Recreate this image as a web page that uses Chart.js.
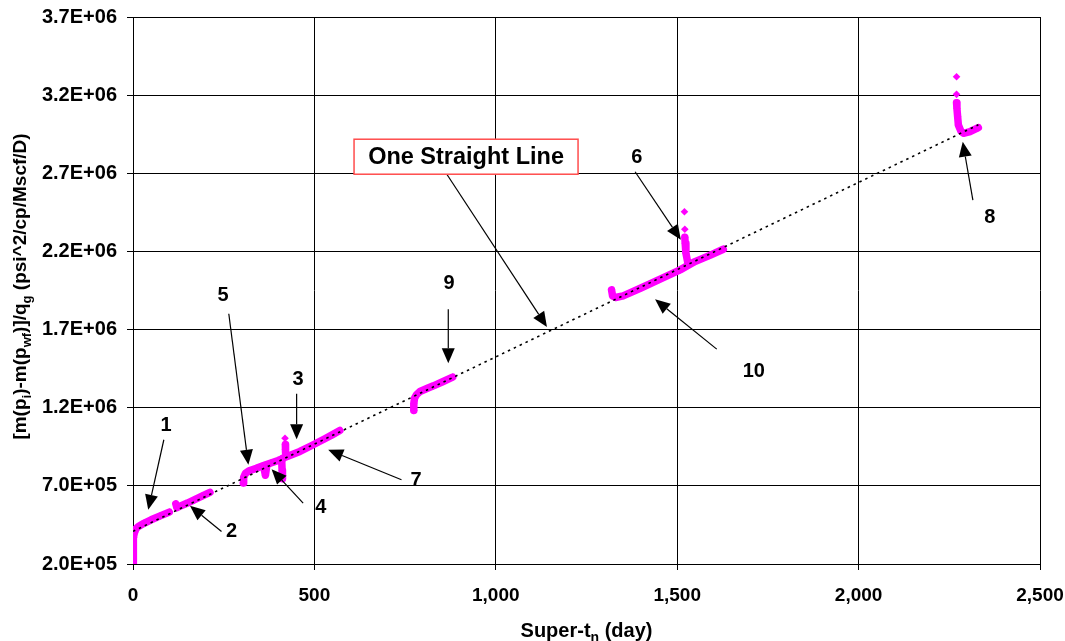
<!DOCTYPE html>
<html>
<head>
<meta charset="utf-8">
<script src="https://cdn.jsdelivr.net/npm/chart.js@4.4.0/dist/chart.umd.min.js"></script>
<style>
  html, body { margin: 0; padding: 0; background: #fff; }
</style>
</head>
<body>
<canvas id="chart" width="1065" height="641"></canvas>
<script>
// Axis ranges
const xMin = 0, xMax = 2500, xStep = 500;
const yMin = 200000, yMax = 3700000, yStep = 500000;

// Fitted straight line (end points)
const straightLine = [[0, 409000], [2330, 3010000]];

// Flow periods, [super time, normalized pseudo-pressure]
const seg1 = [[0, 200000], [0, 260000], [1, 320000], [2, 370000], [4, 400000], [8, 425000], [15, 440000], [30, 460000], [50, 483000], [75, 508000], [100, 532000]];
const seg2 = [[118, 585000], [121, 560000], [130, 570000], [150, 590000], [170, 612000], [190, 634000], [212, 658000]];
const seg5 = [[304, 718000], [305, 755000], [310, 780000], [320, 797000], [340, 812000], [360, 830000], [380, 846000], [400, 862000], [410, 872000]];
const seg4a = [[360, 826000], [365, 768000], [369, 834000]];
const seg4b = [[410, 856000], [411, 800000], [412, 745000]];
const seg3 = [[420, 965000], [420, 935000], [421, 912000]];
const seg7 = [[414, 878000], [430, 893000], [460, 920000], [490, 955000], [506, 974000], [530, 1003000], [550, 1028000], [570, 1054000]];
const seg9 = [[774, 1182000], [774, 1225000], [776, 1261000], [782, 1285000], [791, 1304000], [810, 1323000], [828, 1340000], [855, 1368000], [881, 1396000]];
const seg10 = [[1319, 1954000], [1322, 1915000], [1330, 1905000], [1351, 1916000], [1400, 1966000], [1450, 2020000], [1508, 2082000], [1549, 2135000], [1590, 2175000], [1627, 2214000]];
const seg6 = [[1521, 2291000], [1522, 2252000], [1524, 2189000], [1529, 2130000]];
const seg8 = [[2270, 3151000], [2271, 3116000], [2273, 3062000], [2275, 3009000], [2282, 2970000], [2289, 2956000], [2307, 2966000], [2330, 2992000]];
// isolated early-time points at the start of periods 3, 6 and 8
const spikes = [[419, 1005000], [1520, 2454000], [1521, 2342000], [2270, 3318000], [2270, 3205000]];

// Callouts: text, text position, arrow tail, arrow head (data units)
const callouts = [
  { text: '1', at: [91, 1085000], from: [85, 995000], to: [42, 547000] },
  { text: '2', at: [272, 408000], from: [244, 408000], to: [157, 573000] },
  { text: '5', at: [248, 1916000], from: [264, 1801000], to: [318, 835000] },
  { text: '3', at: [455, 1379000], from: [451, 1289000], to: [451, 999000] },
  { text: '4', at: [518, 561000], from: [469, 590000], to: [382, 807000] },
  { text: '7', at: [780, 734000], from: [740, 739000], to: [538, 931000] },
  { text: '9', at: [871, 1993000], from: [869, 1830000], to: [869, 1485000] },
  { text: '10', at: [1711, 1431000], from: [1609, 1575000], to: [1439, 1894000] },
  { text: '6', at: [1389, 2798000], from: [1384, 2710000], to: [1510, 2274000] },
  { text: '8', at: [2362, 2415000], from: [2315, 2528000], to: [2287, 2902000] },
  { text: 'One Straight Line', at: [918, 2806000], from: [865, 2694000], to: [1141, 1717000], boxed: true }
];

const MAGENTA = '#ff00ff';
const FONT = "'Liberation Sans', Arial, sans-serif";

function pts(arr) {
  return arr.map(p => ({ x: p[0], y: p[1] }));
}

function period(arr) {
  return {
    data: pts(arr),
    showLine: true,
    borderColor: MAGENTA,
    backgroundColor: MAGENTA,
    borderWidth: 7.5,
    borderCapStyle: 'round',
    borderJoinStyle: 'round',
    pointStyle: 'rectRot',
    pointRadius: 3.8,
    pointBorderWidth: 0,
    tension: 0
  };
}

function sciLabel(v) {
  const parts = v.toExponential(1).split('e');
  const exp = parseInt(parts[1], 10);
  const sign = exp < 0 ? '-' : '+';
  return parts[0] + 'E' + sign + String(Math.abs(exp)).padStart(2, '0');
}

// Draws text with subscript runs: parts = [[text, isSub], ...]
function drawRich(ctx, parts, x, y, size) {
  const subSize = Math.round(size * 0.7);
  let width = 0;
  parts.forEach(p => {
    ctx.font = 'bold ' + (p[1] ? subSize : size) + 'px ' + FONT;
    width += ctx.measureText(p[0]).width;
  });
  let cx = x - width / 2;
  ctx.textBaseline = 'alphabetic';
  ctx.textAlign = 'left';
  parts.forEach(p => {
    ctx.font = 'bold ' + (p[1] ? subSize : size) + 'px ' + FONT;
    ctx.fillText(p[0], cx, p[1] ? y + size * 0.25 : y);
    cx += ctx.measureText(p[0]).width;
  });
}

function arrow(ctx, x1, y1, x2, y2) {
  const ang = Math.atan2(y2 - y1, x2 - x1);
  const len = 15, half = 6.5;
  const bx = x2 - len * Math.cos(ang), by = y2 - len * Math.sin(ang);
  ctx.beginPath();
  ctx.moveTo(x1, y1);
  ctx.lineTo(bx, by);
  ctx.stroke();
  ctx.beginPath();
  ctx.moveTo(x2, y2);
  ctx.lineTo(bx + half * Math.sin(ang), by - half * Math.cos(ang));
  ctx.lineTo(bx - half * Math.sin(ang), by + half * Math.cos(ang));
  ctx.closePath();
  ctx.fill();
}

const calloutPlugin = {
  id: 'callouts',
  afterDatasetsDraw(chart) {
    const ctx = chart.ctx;
    const xs = chart.scales.x, ys = chart.scales.y;
    ctx.save();
    ctx.strokeStyle = '#000';
    ctx.fillStyle = '#000';
    ctx.lineWidth = 1.2;
    callouts.forEach(c => {
      arrow(ctx, xs.getPixelForValue(c.from[0]), ys.getPixelForValue(c.from[1]),
        xs.getPixelForValue(c.to[0]), ys.getPixelForValue(c.to[1]));
    });
    callouts.forEach(c => {
      const px = xs.getPixelForValue(c.at[0]), py = ys.getPixelForValue(c.at[1]);
      ctx.textAlign = 'center';
      ctx.textBaseline = 'middle';
      if (c.boxed) {
        ctx.font = 'bold 23.5px ' + FONT;
        const w = 224, h = 35;
        ctx.fillStyle = '#fff';
        ctx.fillRect(px - w / 2, py - h / 2, w, h);
        ctx.strokeStyle = '#ff4d4d';
        ctx.lineWidth = 1.5;
        ctx.strokeRect(px - w / 2, py - h / 2, w, h);
        ctx.fillStyle = '#000';
        ctx.fillText(c.text, px, py + 1);
      } else {
        ctx.font = 'bold 20px ' + FONT;
        ctx.fillStyle = '#000';
        ctx.fillText(c.text, px, py);
      }
    });
    ctx.restore();
  },
  afterDraw(chart) {
    const ctx = chart.ctx;
    const area = chart.chartArea;
    ctx.save();
    ctx.fillStyle = '#000';
    // x axis title
    drawRich(ctx, [['Super-t', false], ['n', true], [' (day)', false]], (area.left + area.right) / 2, 637, 20);
    // y axis title
    ctx.translate(26, (area.top + area.bottom) / 2 - 4);
    ctx.rotate(-Math.PI / 2);
    drawRich(ctx, [['[m(p', false], ['i', true], [')-m(p', false], ['wf', true], [')]/q', false], ['g', true], [' (psi^2/cp/Mscf/D)', false]], 0, 0, 19);
    ctx.restore();
  }
};

const datasets = [
  {
    data: pts(straightLine),
    showLine: true,
    borderColor: '#000',
    borderWidth: 1.6,
    borderDash: [2.5, 4],
    pointRadius: 0,
    tension: 0
  },
  period(seg1), period(seg2), period(seg5), period(seg4a), period(seg4b),
  period(seg3), period(seg7), period(seg9), period(seg10), period(seg6), period(seg8),
  {
    data: pts(spikes),
    showLine: false,
    backgroundColor: MAGENTA,
    pointStyle: 'rectRot',
    pointRadius: 3.8,
    pointBorderWidth: 0
  }
];

new Chart(document.getElementById('chart'), {
  type: 'scatter',
  data: { datasets: datasets },
  options: {
    responsive: false,
    animation: false,
    layout: { padding: { top: 17, right: 25, left: 0, bottom: 0 } },
    plugins: { legend: { display: false }, tooltip: { enabled: false } },
    scales: {
      x: {
        type: 'linear',
        min: xMin, max: xMax,
        afterFit: s => { s.height = 77; s.paddingLeft = 0; s.paddingRight = 0; },
        border: { color: '#000', width: 1 },
        grid: { color: '#000', lineWidth: 1, tickLength: 6 },
        ticks: {
          stepSize: xStep,
          color: '#000',
          padding: 14,
          maxRotation: 0,
          font: { family: FONT, size: 19, weight: 'bold' },
          callback: v => v.toLocaleString('en-US')
        }
      },
      y: {
        type: 'linear',
        min: yMin, max: yMax,
        afterFit: s => { s.width = 133; s.paddingTop = 0; s.paddingBottom = 0; },
        border: { color: '#000', width: 1 },
        grid: { color: '#000', lineWidth: 1, tickLength: 6 },
        ticks: {
          stepSize: yStep,
          color: '#000',
          padding: 10,
          font: { family: FONT, size: 20, weight: 'bold' },
          callback: v => sciLabel(v)
        }
      }
    }
  },
  plugins: [calloutPlugin]
});
</script>
</body>
</html>
